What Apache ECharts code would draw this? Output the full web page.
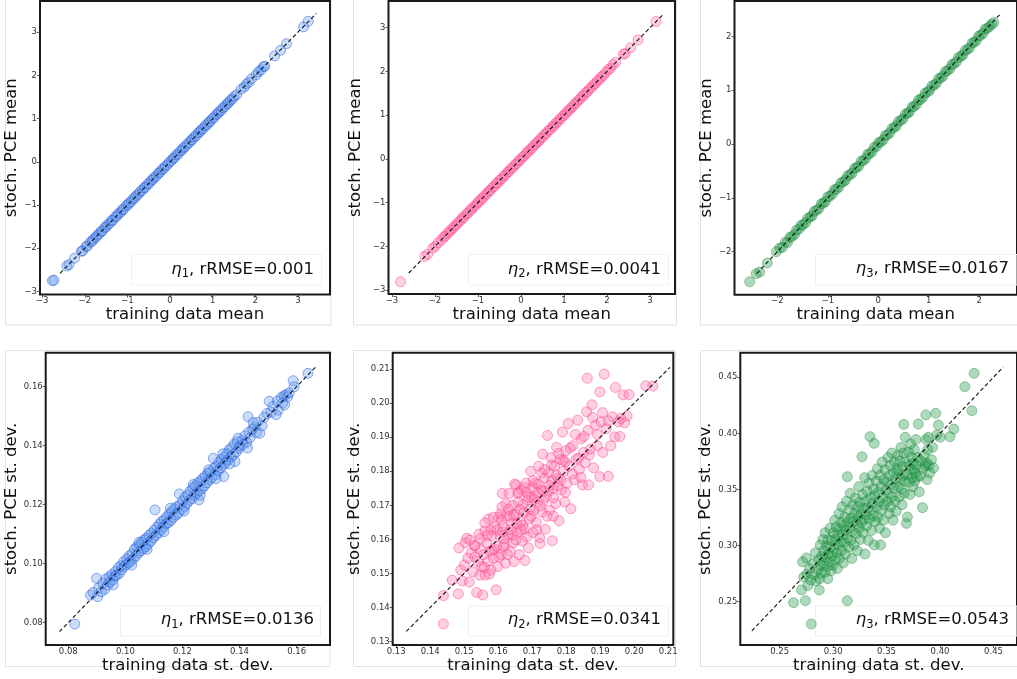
<!DOCTYPE html>
<html>
<head>
<meta charset="utf-8">
<script src="https://cdn.jsdelivr.net/npm/echarts@6/dist/echarts.min.js"></script>
<style>
  html, body { margin: 0; padding: 0; background: #fff; }
  #chart { width: 1017px; height: 679px; }
</style>
</head>
<body>
<div id="chart"></div>
<script>
// ---- data ----
// top row: training data mean vs stoch. PCE mean
const meanPts1 = [
  [-2.76,-2.75],[-2.72,-2.74],[-2.42,-2.41],[-2.37,-2.38],[-2.24,-2.23],[-2.08,-2.07],[-2.05,-2.06],
  [-1.97,-1.96],[-1.94,-1.95],[-1.87,-1.86],[-1.83,-1.84],[-1.8,-1.79],[-1.74,-1.75],[-1.71,-1.7],
  [-1.66,-1.67],[-1.62,-1.61],[-1.59,-1.6],[-1.53,-1.52],[-1.5,-1.51],[-1.46,-1.45],[-1.41,-1.42],
  [-1.37,-1.36],[-1.34,-1.35],[-1.28,-1.27],[-1.25,-1.26],[-1.21,-1.2],[-1.16,-1.17],[-1.12,-1.11],
  [-1.09,-1.1],[-1.03,-1.02],[-0.99,-1.0],[-0.96,-0.95],[-0.91,-0.92],[-0.87,-0.86],[-0.82,-0.83],
  [-0.79,-0.78],[-0.74,-0.75],[-0.7,-0.69],[-0.65,-0.66],[-0.61,-0.6],[-0.58,-0.59],[-0.53,-0.52],
  [-0.49,-0.5],[-0.44,-0.43],[-0.4,-0.41],[-0.37,-0.36],[-0.32,-0.33],[-0.27,-0.26],[-0.24,-0.25],
  [-0.19,-0.18],[-0.15,-0.16],[-0.11,-0.1],[-0.06,-0.07],[-0.02,-0.01],[0.03,0.02],[0.07,0.08],
  [0.1,0.09],[0.15,0.16],[0.19,0.18],[0.24,0.25],[0.28,0.27],[0.31,0.32],[0.36,0.35],[0.4,0.41],
  [0.45,0.44],[0.49,0.5],[0.52,0.51],[0.57,0.58],[0.61,0.6],[0.66,0.67],[0.7,0.69],[0.73,0.74],
  [0.78,0.77],[0.82,0.83],[0.87,0.86],[0.91,0.92],[0.94,0.93],[0.99,1.0],[1.03,1.02],[1.08,1.09],
  [1.12,1.11],[1.15,1.16],[1.2,1.19],[1.24,1.25],[1.29,1.28],[1.33,1.34],[1.37,1.36],[1.41,1.42],
  [1.46,1.45],[1.5,1.51],[1.56,1.55],[1.67,1.68],[1.74,1.73],[1.79,1.8],[1.85,1.84],[1.91,1.92],
  [2.02,2.01],[2.07,2.08],[2.13,2.12],[2.19,2.2],[2.22,2.21],[2.45,2.45],[2.59,2.58],[2.73,2.73],
  [3.13,3.12],[3.24,3.25]
];
const meanPts2 = [
  [-2.8,-2.81],[-2.24,-2.23],[-2.17,-2.18],[-2.05,-2.04],[-1.99,-2.0],[-1.93,-1.92],[-1.85,-1.86],
  [-1.8,-1.79],[-1.76,-1.77],[-1.71,-1.7],[-1.66,-1.67],[-1.63,-1.62],[-1.57,-1.58],[-1.54,-1.53],
  [-1.49,-1.5],[-1.45,-1.44],[-1.4,-1.41],[-1.36,-1.35],[-1.32,-1.33],[-1.27,-1.26],[-1.23,-1.24],
  [-1.18,-1.17],[-1.14,-1.15],[-1.1,-1.09],[-1.05,-1.06],[-1.01,-1.0],[-0.96,-0.97],[-0.93,-0.92],
  [-0.88,-0.89],[-0.84,-0.83],[-0.79,-0.8],[-0.75,-0.74],[-0.71,-0.72],[-0.66,-0.65],[-0.62,-0.63],
  [-0.57,-0.56],[-0.54,-0.55],[-0.49,-0.48],[-0.45,-0.46],[-0.4,-0.39],[-0.36,-0.37],[-0.31,-0.3],
  [-0.28,-0.29],[-0.23,-0.22],[-0.19,-0.2],[-0.14,-0.13],[-0.1,-0.11],[-0.05,-0.04],[-0.02,-0.03],
  [0.03,0.04],[0.07,0.06],[0.12,0.13],[0.16,0.15],[0.2,0.21],[0.25,0.24],[0.29,0.3],[0.34,0.33],
  [0.37,0.38],[0.42,0.41],[0.46,0.47],[0.51,0.5],[0.55,0.56],[0.59,0.58],[0.64,0.65],[0.68,0.67],
  [0.73,0.74],[0.76,0.75],[0.81,0.82],[0.85,0.84],[0.9,0.91],[0.94,0.93],[0.98,0.99],[1.03,1.02],
  [1.07,1.08],[1.12,1.11],[1.15,1.16],[1.2,1.19],[1.24,1.25],[1.29,1.28],[1.33,1.34],[1.38,1.37],
  [1.42,1.43],[1.46,1.45],[1.51,1.52],[1.55,1.54],[1.6,1.61],[1.64,1.63],[1.69,1.7],[1.73,1.72],
  [1.78,1.79],[1.83,1.82],[1.87,1.88],[1.92,1.91],[1.97,1.98],[2.03,2.04],[2.08,2.07],[2.14,2.15],
  [2.2,2.21],[2.38,2.39],[2.42,2.41],[2.55,2.54],[2.72,2.72],[3.14,3.14]
];
const meanPts3 = [
  [-2.55,-2.56],[-2.42,-2.41],[-2.35,-2.38],[-2.2,-2.21],[-2.02,-2.0],[-1.95,-1.93],[-1.9,-1.92],
  [-1.84,-1.82],[-1.8,-1.83],[-1.75,-1.73],[-1.71,-1.72],[-1.66,-1.68],[-1.62,-1.6],[-1.57,-1.58],
  [-1.53,-1.51],[-1.49,-1.5],[-1.44,-1.46],[-1.4,-1.38],[-1.35,-1.36],[-1.31,-1.33],[-1.27,-1.25],
  [-1.22,-1.23],[-1.18,-1.2],[-1.13,-1.11],[-1.09,-1.1],[-1.05,-1.07],[-1.0,-0.98],[-0.96,-0.97],
  [-0.91,-0.93],[-0.87,-0.85],[-0.83,-0.84],[-0.78,-0.8],[-0.74,-0.72],[-0.69,-0.7],[-0.65,-0.67],
  [-0.61,-0.59],[-0.56,-0.57],[-0.52,-0.54],[-0.47,-0.45],[-0.43,-0.44],[-0.39,-0.41],[-0.34,-0.32],
  [-0.3,-0.31],[-0.25,-0.27],[-0.21,-0.19],[-0.17,-0.18],[-0.12,-0.14],[-0.08,-0.06],[-0.03,-0.04],
  [0.01,0.03],[0.05,0.04],[0.1,0.08],[0.14,0.16],[0.18,0.17],[0.23,0.21],[0.27,0.29],[0.32,0.31],
  [0.36,0.34],[0.4,0.42],[0.45,0.44],[0.49,0.47],[0.54,0.56],[0.58,0.57],[0.62,0.6],[0.67,0.69],
  [0.71,0.7],[0.76,0.74],[0.8,0.82],[0.84,0.83],[0.89,0.87],[0.93,0.95],[0.98,0.97],[1.02,1.0],
  [1.06,1.08],[1.11,1.1],[1.15,1.13],[1.2,1.22],[1.24,1.23],[1.28,1.26],[1.33,1.35],[1.37,1.36],
  [1.42,1.4],[1.46,1.48],[1.5,1.49],[1.55,1.53],[1.59,1.61],[1.64,1.63],[1.68,1.66],[1.72,1.74],
  [1.77,1.76],[1.81,1.79],[1.86,1.88],[1.9,1.89],[1.94,1.92],[1.99,2.01],[2.03,2.02],[2.08,2.06],
  [2.12,2.14],[2.16,2.15],[2.21,2.19],[2.25,2.23],[2.29,2.26]
];
// bottom row: training data st. dev. vs stoch. PCE st. dev.
const sdPts1 = [
  [0.0823,0.0795],[0.0878,0.0893],[0.0887,0.0902],[0.0899,0.095],[0.0903,0.0888],[0.0907,0.0918],
  [0.0916,0.0905],[0.0921,0.0933],[0.0929,0.0914],[0.0932,0.0948],[0.0938,0.0927],[0.0943,0.0955],
  [0.0945,0.0937],[0.0953,0.0963],[0.0956,0.0944],[0.0963,0.0957],[0.0966,0.0973],[0.097,0.0961],
  [0.0976,0.0986],[0.0979,0.0967],[0.0985,0.0993],[0.0987,0.0979],[0.0994,0.1006],[0.0996,0.099],
  [0.1003,0.0997],[0.1005,0.1016],[0.1012,0.1002],[0.1014,0.1026],[0.102,0.1009],[0.1023,0.1033],
  [0.1029,0.1017],[0.1032,0.1049],[0.1038,0.1027],[0.104,0.1056],[0.1047,0.1037],[0.1049,0.1063],
  [0.1055,0.1044],[0.1057,0.1073],[0.1064,0.1051],[0.1066,0.1081],[0.1072,0.1057],[0.1074,0.1086],
  [0.1081,0.1067],[0.1083,0.1096],[0.109,0.1077],[0.1092,0.1103],[0.1098,0.1087],[0.1104,0.1182],
  [0.1101,0.1113],[0.1107,0.1095],[0.111,0.1123],[0.1116,0.1104],[0.1119,0.1133],[0.1125,0.1114],
  [0.1127,0.1143],[0.1134,0.1124],[0.1136,0.1149],[0.1143,0.1134],[0.1145,0.1159],[0.1151,0.1139],
  [0.1154,0.1169],[0.116,0.1147],[0.1162,0.1176],[0.1169,0.1157],[0.1171,0.1186],[0.1178,0.1165],
  [0.118,0.1193],[0.1186,0.1171],[0.1189,0.1236],[0.1192,0.1199],[0.1199,0.1184],[0.1201,0.1213],
  [0.1208,0.1194],[0.121,0.1226],[0.1216,0.1204],[0.1219,0.1233],[0.1225,0.1214],[0.1227,0.1246],
  [0.1234,0.1221],[0.1236,0.1256],[0.1243,0.1231],[0.1245,0.1263],[0.1251,0.1239],[0.1254,0.1273],
  [0.1258,0.1216],[0.126,0.1247],[0.1262,0.1279],[0.1269,0.1254],[0.1271,0.1289],[0.1277,0.1264],
  [0.128,0.1296],[0.1286,0.1274],[0.1289,0.1306],[0.1295,0.1284],[0.1297,0.1311],[0.1303,0.1291],
  [0.1308,0.1357],[0.131,0.1323],[0.1316,0.1301],[0.1319,0.1329],[0.1325,0.1314],[0.1328,0.1343],
  [0.1334,0.1324],[0.1336,0.1353],[0.1345,0.1295],[0.1343,0.1334],[0.1347,0.1361],[0.135,0.1341],
  [0.1356,0.1373],[0.1359,0.1351],[0.1364,0.1386],[0.137,0.1361],[0.1373,0.1393],[0.1379,0.1369],
  [0.1384,0.1346],[0.1382,0.1406],[0.1389,0.1379],[0.1392,0.1413],[0.1399,0.1391],[0.1402,0.1399],
  [0.1409,0.1417],[0.1412,0.1404],[0.1419,0.1433],[0.143,0.1498],[0.1425,0.1411],[0.1433,0.1446],
  [0.1437,0.1427],[0.1446,0.1456],[0.1451,0.1463],[0.1459,0.1444],[0.1471,0.1442],[0.1464,0.1479],
  [0.1479,0.1467],[0.1486,0.1496],[0.1496,0.1509],[0.1504,0.155],[0.1511,0.1513],[0.1517,0.1533],
  [0.1533,0.1551],[0.1536,0.152],[0.1546,0.1563],[0.1551,0.1544],[0.1556,0.1569],[0.1563,0.1573],
  [0.1569,0.1566],[0.1574,0.1579],[0.1588,0.162],[0.1591,0.1599],[0.164,0.1645],
  [0.1135,0.1108],[0.1158,0.1188],[0.1206,0.1178],[0.1238,0.1268],[0.1262,0.1232],[0.1292,0.1318],
  [0.1318,0.1288],[0.1342,0.1372],[0.1366,0.1338],[0.1395,0.1425],[0.1428,0.1392],[0.1448,0.1478],
  [0.1022,0.0995],[0.1048,0.1072],[0.1076,0.1048],[0.0958,0.0928],[0.1528,0.1505],[0.1558,0.1538]
];
const sdPts2 = [
  [0.1439,0.1352],[0.1439,0.1435],[0.1465,0.148],[0.1483,0.144],[0.1485,0.1575],[0.149,0.151],
  [0.1495,0.1478],[0.1501,0.1525],[0.1503,0.159],[0.1508,0.1603],[0.1511,0.1545],[0.1515,0.1475],
  [0.1521,0.156],[0.1526,0.1505],[0.1531,0.158],[0.1537,0.1444],[0.1541,0.1535],[0.1544,0.1615],
  [0.1546,0.1495],[0.1549,0.157],[0.1552,0.152],[0.1555,0.1437],[0.1557,0.1555],[0.1561,0.1625],
  [0.1562,0.1495],[0.1566,0.159],[0.157,0.1535],[0.1572,0.166],[0.1576,0.1565],[0.1579,0.151],
  [0.1581,0.161],[0.1586,0.1545],[0.159,0.1635],[0.1594,0.1452],[0.1596,0.158],[0.1599,0.152],
  [0.1602,0.1665],[0.1605,0.161],[0.1608,0.1555],[0.1611,0.1695],[0.1614,0.164],[0.1619,0.1585],
  [0.1622,0.153],[0.1626,0.167],[0.1629,0.1615],[0.1632,0.1735],[0.1636,0.1565],[0.1639,0.1645],
  [0.1642,0.17],[0.1644,0.159],[0.1647,0.1535],[0.1651,0.1675],[0.1653,0.176],[0.1656,0.162],
  [0.1659,0.171],[0.1662,0.1555],[0.1666,0.165],[0.1669,0.1745],[0.1671,0.1595],[0.1676,0.168],
  [0.1679,0.163],[0.1682,0.1765],[0.1686,0.1715],[0.1689,0.1575],[0.1692,0.166],[0.1696,0.18],
  [0.1698,0.1725],[0.1702,0.162],[0.1705,0.1685],[0.1709,0.1765],[0.1712,0.165],[0.1716,0.171],
  [0.1719,0.1815],[0.1722,0.1605],[0.1726,0.1745],[0.1729,0.168],[0.1731,0.185],[0.1736,0.178],
  [0.1739,0.163],[0.1742,0.1725],[0.1745,0.1905],[0.1748,0.1795],[0.1752,0.1685],[0.1756,0.184],
  [0.1759,0.1596],[0.1762,0.175],[0.1766,0.1815],[0.1769,0.1705],[0.1772,0.187],[0.1776,0.178],
  [0.1779,0.1655],[0.1782,0.1835],[0.1786,0.1745],[0.1789,0.1915],[0.1792,0.18],[0.1796,0.171],
  [0.1799,0.186],[0.1802,0.1765],[0.1806,0.194],[0.1809,0.1815],[0.1814,0.169],[0.1819,0.1875],
  [0.1824,0.1775],[0.1829,0.1835],[0.1834,0.195],[0.1839,0.1805],[0.1844,0.1895],[0.1848,0.176],
  [0.1851,0.1855],[0.1856,0.1825],[0.186,0.1975],[0.1862,0.2073],[0.1864,0.192],[0.1866,0.176],
  [0.1871,0.1865],[0.1876,0.1995],[0.1881,0.181],[0.1886,0.1935],[0.1891,0.1875],[0.1899,0.1784],
  [0.1899,0.2033],[0.1903,0.1945],[0.1908,0.1855],[0.1912,0.2085],[0.1918,0.1925],[0.1924,0.1785],
  [0.1931,0.1875],[0.1936,0.196],[0.1943,0.1901],[0.1945,0.2046],[0.1954,0.1945],[0.1961,0.1955],
  [0.1968,0.2024],[0.1972,0.1942],[0.1985,0.2025],[0.2034,0.2051],[0.2055,0.205],
  [0.1582,0.1568],[0.1613,0.1622],[0.1634,0.1668],[0.1655,0.1645],[0.1673,0.1702],[0.1694,0.1688],
  [0.1716,0.1738],[0.1733,0.1712],[0.1758,0.1772],[0.1774,0.1758],[0.1797,0.1828],[0.1616,0.1578],
  [0.1641,0.1612],[0.1668,0.1628],[0.1701,0.1752],[0.1728,0.1795],[0.1748,0.1742],[0.1683,0.1738],
  [0.1607,0.1675],[0.1578,0.1628],[0.1623,0.1705],[0.1658,0.1735],
  [0.1532,0.1548],[0.1548,0.1602],[0.1559,0.1518],[0.1568,0.1612],[0.1574,0.1498],[0.1588,0.1572],
  [0.1597,0.1628],[0.1603,0.1548],[0.1609,0.1658],[0.1618,0.1602],[0.1627,0.1556],[0.1631,0.1688],
  [0.1637,0.1628],[0.1646,0.1672],[0.1652,0.1598],[0.1661,0.1738],[0.1664,0.1688],[0.1672,0.1642],
  [0.1678,0.1752],[0.1684,0.1608],[0.1691,0.1722],[0.1697,0.1668],[0.1703,0.1772],[0.1707,0.1718],
  [0.1713,0.1628],[0.1718,0.1762],[0.1724,0.1698],[0.1733,0.1742],[0.1737,0.1805],[0.1744,0.1668],
  [0.1751,0.1758],[0.1757,0.1818],[0.1763,0.1722],[0.1771,0.1788],[0.1778,0.1852],[0.1784,0.1775],
  [0.1791,0.1832],[0.1798,0.1738],[0.1812,0.1868],[0.1818,0.1792],[0.1827,0.1908],[0.1836,0.1838],
  [0.1843,0.1782],[0.1852,0.1902],[0.1868,0.1848],[0.1878,0.1958],[0.1892,0.1908],[0.1907,0.1972],
  [0.1924,0.1948],[0.1958,0.1902],[0.1979,0.1962],[0.1532,0.1582],[0.1517,0.1598],[0.1561,0.1648],
  [0.1586,0.1665],[0.1612,0.1735],[0.1648,0.1762],[0.1679,0.1538],[0.1723,0.1588],[0.1762,0.1668]
];
const sdPts3 = [
  [0.263,0.2491],[0.2741,0.2509],[0.2796,0.2301],[0.2705,0.2605],[0.2715,0.2855],[0.2725,0.272],
  [0.275,0.289],[0.2755,0.2745],[0.2765,0.2645],[0.278,0.2795],[0.279,0.2695],[0.2815,0.284],
  [0.282,0.274],[0.2835,0.2935],[0.284,0.2685],[0.2855,0.2785],[0.2865,0.2875],[0.2871,0.2604],
  [0.2875,0.2705],[0.288,0.3005],[0.2885,0.282],[0.2895,0.2905],[0.289,0.2755],[0.2905,0.3055],
  [0.291,0.2845],[0.2915,0.2955],[0.292,0.276],[0.2925,0.3115],[0.293,0.29],[0.294,0.2995],
  [0.2945,0.2815],[0.295,0.2705],[0.2955,0.3055],[0.296,0.2925],[0.2965,0.2855],[0.297,0.3155],
  [0.2975,0.2985],[0.298,0.2775],[0.2985,0.3045],[0.299,0.291],[0.2995,0.2825],[0.3005,0.3115],
  [0.301,0.297],[0.3015,0.3225],[0.302,0.2875],[0.3025,0.3055],[0.303,0.3165],[0.3035,0.2935],
  [0.304,0.2795],[0.3045,0.3095],[0.305,0.3005],[0.3055,0.3285],[0.306,0.2885],[0.3065,0.3145],
  [0.307,0.3035],[0.3075,0.3205],[0.308,0.2955],[0.3085,0.3345],[0.309,0.3095],[0.3095,0.2845],
  [0.31,0.3175],[0.3105,0.3025],[0.311,0.3255],[0.3115,0.2925],[0.312,0.3135],[0.3125,0.3395],
  [0.3133,0.2509],[0.3133,0.3614],[0.3135,0.3075],[0.314,0.3215],[0.3145,0.2985],[0.315,0.3315],
  [0.3155,0.3165],[0.316,0.3465],[0.3165,0.3045],[0.317,0.3245],[0.3175,0.2885],[0.318,0.3125],
  [0.3185,0.3365],[0.319,0.3215],[0.3195,0.3005],[0.3205,0.3285],[0.321,0.3425],[0.3215,0.3105],
  [0.322,0.3195],[0.3225,0.2955],[0.323,0.3345],[0.3235,0.3255],[0.324,0.3525],[0.3245,0.3155],
  [0.325,0.3385],[0.3255,0.3055],[0.326,0.3285],[0.3265,0.3205],[0.327,0.3792],[0.3275,0.3455],
  [0.328,0.3115],[0.3285,0.3335],[0.329,0.3235],[0.3295,0.3605],[0.3298,0.2925],[0.3305,0.3395],
  [0.331,0.3275],[0.3315,0.3175],[0.332,0.3485],[0.3325,0.3335],[0.333,0.3045],[0.3335,0.3555],
  [0.334,0.3235],[0.3345,0.3971],[0.335,0.3425],[0.3355,0.3315],[0.336,0.3135],[0.3365,0.3625],
  [0.337,0.3375],[0.3375,0.3265],[0.3384,0.3911],[0.338,0.3505],[0.3385,0.3005],[0.339,0.3445],
  [0.3395,0.3215],[0.3405,0.3575],[0.341,0.3345],[0.3415,0.3685],[0.342,0.3255],[0.3425,0.3475],
  [0.343,0.3395],[0.3435,0.3155],[0.3444,0.3005],[0.344,0.3625],[0.345,0.3525],[0.3455,0.3315],
  [0.346,0.3745],[0.3465,0.3425],[0.347,0.3225],[0.3475,0.3585],[0.348,0.3365],[0.3485,0.3675],
  [0.349,0.3115],[0.3495,0.3495],[0.3505,0.3565],[0.351,0.3395],[0.3515,0.3785],[0.352,0.3465],
  [0.3525,0.3285],[0.353,0.3625],[0.3535,0.3715],[0.354,0.3345],[0.3545,0.3545],[0.355,0.3825],
  [0.3555,0.3435],[0.356,0.3225],[0.3565,0.3645],[0.357,0.3515],[0.3575,0.3745],[0.358,0.3395],
  [0.3585,0.3595],[0.359,0.3305],[0.3595,0.3685],[0.3605,0.3805],[0.361,0.3525],[0.3615,0.3665],
  [0.362,0.3435],[0.3625,0.3755],[0.363,0.3595],[0.3635,0.3875],[0.364,0.3505],[0.3645,0.3365],
  [0.365,0.3705],[0.3655,0.3625],[0.3661,0.408],[0.366,0.3825],[0.3665,0.3465],[0.367,0.3575],
  [0.3675,0.3965],[0.368,0.3745],[0.3686,0.3198],[0.369,0.3632],[0.3695,0.3255],[0.3705,0.3835],
  [0.371,0.3565],[0.3715,0.3715],[0.372,0.3455],[0.3725,0.3905],[0.373,0.3678],[0.3735,0.3785],
  [0.374,0.3605],[0.3745,0.3525],[0.375,0.3735],[0.3755,0.3675],[0.376,0.3855],[0.3765,0.3575],
  [0.377,0.3645],[0.3775,0.3945],[0.378,0.3715],[0.3785,0.3612],[0.3797,0.4083],[0.379,0.3785],
  [0.3806,0.348],[0.3815,0.3622],[0.382,0.3755],[0.3836,0.3338],[0.3845,0.3685],[0.385,0.3805],
  [0.386,0.3712],[0.3867,0.4164],[0.387,0.3945],[0.3875,0.3735],[0.388,0.3588],[0.3885,0.3855],
  [0.389,0.3965],[0.3895,0.3715],[0.3905,0.3648],[0.392,0.3765],[0.393,0.3875],[0.394,0.3692],
  [0.396,0.4179],[0.397,0.3985],[0.3985,0.4075],[0.4002,0.3965],[0.4093,0.3971],[0.4129,0.4039],
  [0.4232,0.4416],[0.4298,0.4202],[0.4319,0.4535]
];
// dashed y = x reference segments (start, end)
const diag = [[-2.58, 3.43], [-2.61, 3.32], [-2.41, 2.42], [0.0769, 0.1669], [0.133, 0.2105], [0.224, 0.459]];
// axis ticks
const ticksMean12 = [-3, -2, -1, 0, 1, 2, 3];
const ticksMean3 = [-2, -1, 0, 1, 2];
const ticksSd1 = [0.08, 0.10, 0.12, 0.14, 0.16];
const ticksSd2 = [0.13, 0.14, 0.15, 0.16, 0.17, 0.18, 0.19, 0.20, 0.21];
const ticksSd3 = [0.25, 0.30, 0.35, 0.40, 0.45];
const labels = ['1, rRMSE=0.001', '2, rRMSE=0.0041', '3, rRMSE=0.0167',
                '1, rRMSE=0.0136', '2, rRMSE=0.0341', '3, rRMSE=0.0543'];

// ---- layout ----
const FONT = 'DejaVu Sans';
const colors = [
  { fill: 'rgba(95,155,240,0.42)', edge: 'rgba(35,85,215,0.6)' },
  { fill: 'rgba(255,115,170,0.42)', edge: 'rgba(255,60,140,0.6)' },
  { fill: 'rgba(40,158,78,0.48)', edge: 'rgba(20,120,50,0.45)' }
];
const panels = [
  { pts: meanPts1, c: 0, grid: [40, 1, 290, 293.5], x: [-3.05, 3.75], y: [-3.07, 3.72], xt: ticksMean12, yt: ticksMean12, fmt: 'm', xn: 'training data mean', yn: 'stoch. PCE mean', yGap: 16, xGap: 11 },
  { pts: meanPts2, c: 1, grid: [388.5, 1, 286.5, 293], x: [-3.08, 3.58], y: [-3.09, 3.61], xt: ticksMean12, yt: ticksMean12, fmt: 'm', xn: 'training data mean', yn: 'stoch. PCE mean', yGap: 24, xGap: 11 },
  { pts: meanPts3, c: 2, grid: [734.5, 1, 294, 293.7], x: [-2.85, 2.75], y: [-2.8, 2.66], xt: ticksMean3, yt: ticksMean3, fmt: 'm', xn: 'training data mean', yn: 'stoch. PCE mean', yGap: 15.5, xGap: 11 },
  { pts: sdPts1, c: 0, grid: [45.7, 352.7, 284.3, 292.3], x: [0.0721, 0.1717], y: [0.0724, 0.1715], xt: ticksSd1, yt: ticksSd1, fmt: 's', xn: 'training data st. dev.', yn: 'stoch. PCE st. dev.', yGap: 22, xGap: 10 },
  { pts: sdPts2, c: 1, grid: [392.7, 352.7, 280.6, 292.3], x: [0.129, 0.2115], y: [0.129, 0.2148], xt: ticksSd2, yt: ticksSd2, fmt: 's', xn: 'training data st. dev.', yn: 'stoch. PCE st. dev.', yGap: 29, xGap: 10 },
  { pts: sdPts3, c: 2, grid: [740.3, 352.7, 286, 292.3], x: [0.2132, 0.472], y: [0.2114, 0.4719], xt: ticksSd3, yt: ticksSd3, fmt: 's', xn: 'training data st. dev.', yn: 'stoch. PCE st. dev.', yGap: 21.5, xGap: 10 }
];
// annotation anchor (right edge, middle) and faint frame box
const notes = [
  { x: 314, y: 269.5, box: [131.5, 254.5, 190, 30.5] },
  { x: 661, y: 269.5, box: [468.5, 254.5, 200, 30.5] },
  { x: 1009, y: 269, box: [815.5, 254.5, 205, 30.5] },
  { x: 314, y: 620, box: [120.5, 606, 200, 30] },
  { x: 661, y: 620, box: [468.5, 606, 200, 30] },
  { x: 1009, y: 620, box: [815.5, 606, 205, 30] }
];
const tiles = [
  [5.5, -2, 325.5, 327], [353.5, -2, 323, 327], [700.5, -2, 320, 327],
  [5.5, 350.5, 324.5, 316], [353.5, 350.5, 322, 316], [700.5, 350.5, 320, 316]
];

function fmtMean(v) { return v < 0 ? '\u2212' + (-v) : String(v); }
function fmtSd(v) { return v.toFixed(2); }

const grid = [], xAxis = [], yAxis = [], series = [], graphic = [];

tiles.forEach(t => graphic.push({
  type: 'rect', z: -10, silent: true,
  shape: { x: t[0], y: t[1], width: t[2], height: t[3] },
  style: { fill: 'none', stroke: '#e2e2e2', lineWidth: 1 }
}));

panels.forEach((p, i) => {
  grid.push({
    left: p.grid[0], top: p.grid[1], width: p.grid[2], height: p.grid[3],
    show: true, borderColor: '#1a1a1a', borderWidth: 2, backgroundColor: 'transparent'
  });
  const fmt = p.fmt === 'm' ? fmtMean : fmtSd;
  const common = {
    type: 'value', gridIndex: i, nameLocation: 'middle',
    nameTextStyle: { fontFamily: FONT, fontSize: 16.5, color: '#111' },
    axisLine: { show: false, onZero: false },
    splitLine: { show: false },
    axisTick: { show: true, length: 3, lineStyle: { color: '#333', width: 0.8 } },
    axisLabel: { fontFamily: FONT, fontSize: 8.5, color: '#333', margin: 3, formatter: fmt }
  };
  xAxis.push(Object.assign({}, common, {
    position: 'bottom',
    min: p.x[0], max: p.x[1], name: p.xn, nameGap: p.xGap,
    axisTick: Object.assign({}, common.axisTick, { customValues: p.xt }),
    axisLabel: Object.assign({}, common.axisLabel, { customValues: p.xt, margin: 2 })
  }));
  yAxis.push(Object.assign({}, common, {
    position: 'left',
    min: p.y[0], max: p.y[1], name: p.yn, nameGap: p.yGap,
    axisTick: Object.assign({}, common.axisTick, { customValues: p.yt }),
    axisLabel: Object.assign({}, common.axisLabel, { customValues: p.yt })
  }));
  const col = colors[p.c];
  series.push({
    type: 'scatter', xAxisIndex: i, yAxisIndex: i, data: p.pts,
    symbolSize: 10, silent: true, z: 2,
    itemStyle: { color: col.fill, borderColor: col.edge, borderWidth: 1 }
  });
  const d = diag[i];
  series.push({
    type: 'line', xAxisIndex: i, yAxisIndex: i,
    data: [[d[0], d[0]], [d[1], d[1]]],
    symbol: 'none', silent: true, z: 5,
    lineStyle: { color: '#111', width: 1.1, type: [4, 2.5] }
  });
  const n = notes[i];
  graphic.push({
    type: 'rect', z: 1, silent: true,
    shape: { x: n.box[0], y: n.box[1], width: n.box[2], height: n.box[3] },
    style: { fill: 'rgba(255,255,255,0.6)', stroke: '#f0f0f0', lineWidth: 1 }
  });
  graphic.push({
    type: 'text', z: 10, silent: true, x: n.x, y: n.y,
    style: {
      text: '{e|\u03b7}{s|' + labels[i].charAt(0) + '}{t|' + labels[i].slice(1) + '}',
      align: 'right', verticalAlign: 'middle',
      rich: {
        e: { fontFamily: FONT, fontStyle: 'italic', fontSize: 16.5, fill: '#111', lineHeight: 22 },
        s: { fontFamily: FONT, fontSize: 11.5, fill: '#111', lineHeight: 10, verticalAlign: 'bottom' },
        t: { fontFamily: FONT, fontSize: 16.5, fill: '#111', lineHeight: 22 }
      }
    }
  });
});

const chart = echarts.init(document.getElementById('chart'), null, { renderer: 'canvas' });
chart.setOption({
  animation: false,
  backgroundColor: '#fff',
  grid: grid,
  xAxis: xAxis,
  yAxis: yAxis,
  series: series,
  graphic: graphic
});
</script>
</body>
</html>
